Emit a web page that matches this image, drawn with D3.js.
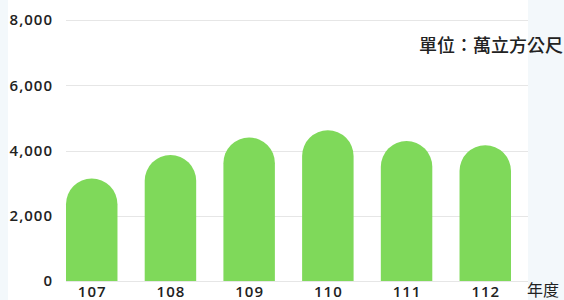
<!DOCTYPE html>
<html>
<head>
<meta charset="utf-8">
<script src="https://cdn.jsdelivr.net/npm/d3@7"></script>
<style>
  body { margin: 0; background: #f3f8fb; }
  svg { display: block; }
</style>
</head>
<body>
<div id="chart"></div>
<script>
// data
var years = ["107", "108", "109", "110", "111", "112"];
var volumes = [3140, 3860, 4400, 4620, 4290, 4160];
var yTicks = [0, 2000, 4000, 6000, 8000];
var unitLabel = "單位：萬立方公尺";
var xLabel = "年度";

var W = 564, H = 300;
var margin = {top: 20, left: 66, bottom: 19, right: 36};

var svg = d3.select("#chart")
  .append("svg")
  .attr("width", W)
  .attr("height", H);

// white panel behind the chart
svg.append("rect")
  .attr("x", 8)
  .attr("y", 0)
  .attr("width", 520)
  .attr("height", H)
  .style("fill", "#fff");

var y = d3.scaleLinear()
  .domain([0, 8000])
  .range([H - margin.bottom, margin.top]);

var x = d3.scaleBand()
  .domain(years)
  .range([margin.left, 511])
  .paddingInner(0.346)
  .paddingOuter(0);

// grid lines
svg.selectAll(".grid")
  .data(yTicks)
  .join("line")
  .attr("class", "grid")
  .attr("x1", margin.left)
  .attr("x2", W - margin.right)
  .attr("y1", function(d) { return Math.round(y(d)) + 0.5; })
  .attr("y2", function(d) { return Math.round(y(d)) + 0.5; })
  .style("stroke", "#e6e6e6")
  .style("stroke-width", 1);

// y labels
svg.selectAll(".ylab")
  .data(yTicks)
  .join("text")
  .attr("class", "ylab")
  .attr("x", 53)
  .attr("y", function(d) { return y(d); })
  .attr("dy", "0.35em")
  .attr("text-anchor", "end")
  .style("font-family", "'Open Sans', sans-serif")
  .style("font-weight", 600)
  .style("font-size", "15px")
  .style("letter-spacing", "1px")
  .style("fill", "#222")
  .text(function(d) { return d3.format(",")(d); });

// bars with round tops
var bw = x.bandwidth(), r = bw / 2;
svg.selectAll(".bar")
  .data(volumes)
  .join("path")
  .attr("class", "bar")
  .attr("d", function(d, i) {
    var x0 = x(years[i]), top = y(d), base = y(0);
    return "M" + x0 + "," + base +
      "L" + x0 + "," + (top + r) +
      "A" + r + "," + r + " 0 0 1 " + (x0 + bw) + "," + (top + r) +
      "L" + (x0 + bw) + "," + base + "Z";
  })
  .style("fill", "#7fd95a");

// x labels
svg.selectAll(".xlab")
  .data(years)
  .join("text")
  .attr("class", "xlab")
  .attr("x", function(d) { return x(d) + bw / 2 + 0.5; })
  .attr("y", 292)
  .attr("dy", "0.35em")
  .attr("text-anchor", "middle")
  .style("font-family", "'Open Sans', sans-serif")
  .style("font-weight", 600)
  .style("font-size", "15px")
  .style("letter-spacing", "1px")
  .style("fill", "#222")
  .text(function(d) { return d; });

svg.append("text")
  .attr("x", 527)
  .attr("y", 290)
  .attr("dy", "0.35em")
  .style("font-family", "'Noto Sans CJK TC', sans-serif")
  .style("font-size", "16px")
  .style("fill", "#222")
  .text(xLabel);

svg.append("text")
  .attr("x", 563)
  .attr("y", 46)
  .attr("dy", "0.35em")
  .attr("text-anchor", "end")
  .style("font-family", "'Noto Sans CJK TC', sans-serif")
  .style("font-weight", 500)
  .style("font-size", "18px")
  .style("fill", "#222")
  .text(unitLabel);
</script>
</body>
</html>
